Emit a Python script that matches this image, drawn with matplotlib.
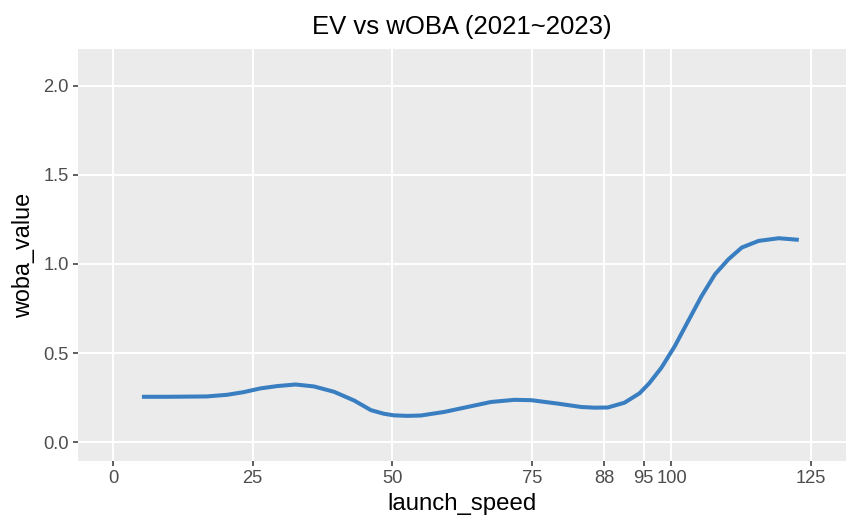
import matplotlib
matplotlib.use("Agg")
import matplotlib.pyplot as plt

plt.rcParams['font.family'] = ['Liberation Sans', 'DejaVu Sans']

launch_speed = [5.2, 10.0, 16.8, 20.4, 23.4, 26.4, 29.4, 32.7, 36.0, 39.6, 43.2, 46.2,
                48.5, 50.3, 52.7, 55.1, 59.3, 64.1, 67.7, 71.9, 74.9, 79.6, 83.8, 86.2,
                88.6, 91.6, 94.3, 96.0, 98.2, 100.6, 103.0, 105.4, 107.8, 110.2, 112.6,
                115.6, 119.2, 122.8]
woba_value = [0.255, 0.255, 0.257, 0.266, 0.281, 0.302, 0.315, 0.324, 0.313, 0.283, 0.234, 0.180,
              0.160, 0.151, 0.148, 0.150, 0.170, 0.202, 0.226, 0.238, 0.236, 0.217, 0.198, 0.194,
              0.195, 0.222, 0.275, 0.330, 0.418, 0.539, 0.680, 0.820, 0.942, 1.026, 1.092,
              1.129, 1.144, 1.135]

x_breaks = [0, 25, 50, 75, 88, 95, 100, 125]
x_labels = ["0", "25", "50", "75", "88", "95", "100", "125"]
y_breaks = [0.0, 0.5, 1.0, 1.5, 2.0]
y_labels = ["0.0", "0.5", "1.0", "1.5", "2.0"]

fig = plt.figure(figsize=(8.59, 5.32), dpi=100)
ax = fig.add_axes([78/859, 1-461/532, (846-78)/859, (461-49)/532])
ax.set_facecolor('#EBEBEB')
for s in ax.spines.values():
    s.set_visible(False)

ax.set_xlim(-6.25, 131.25)
ax.set_ylim(-0.105, 2.205)
ax.set_xticks(x_breaks)
ax.set_xticklabels(x_labels)
ax.set_yticks(y_breaks)
ax.set_yticklabels(y_labels)
ax.grid(True, color='white', linewidth=1.4)
ax.set_axisbelow(True)
ax.tick_params(axis='both', colors='#333333', length=3.5, width=1.1,
               labelsize=13.2, labelcolor='#4D4D4D', pad=3)

ax.plot(launch_speed, woba_value, color='#3A7EC2', linewidth=2.9,
        solid_capstyle='butt', solid_joinstyle='round')

ax.set_xlabel('launch_speed', fontsize=17.3, color='black', labelpad=4)
ax.set_ylabel('woba_value', fontsize=16.8, color='black', labelpad=6)
ax.set_title('EV vs wOBA (2021~2023)', fontsize=18.5, color='black', pad=11)

fig.savefig('out.png', dpi=100)
